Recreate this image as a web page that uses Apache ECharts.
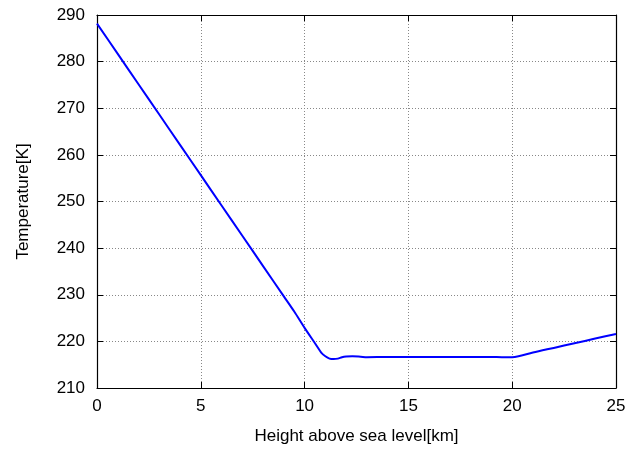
<!DOCTYPE html>
<html>
<head>
<meta charset="utf-8">
<script src="https://cdn.jsdelivr.net/npm/echarts@6/dist/echarts.min.js"></script>
<style>
  html, body { margin: 0; padding: 0; background: #fff; }
  #chart { width: 630px; height: 450px; }
</style>
</head>
<body>
<div id="chart"></div>
<script>
// Standard atmosphere temperature profile (height in km, temperature in K)
const heightKm = [0, 1, 2, 3, 4, 5, 6, 7, 8, 9, 9.5, 10, 10.5, 10.8, 11, 11.2, 11.4, 11.6, 11.8, 12, 12.3, 12.7, 13, 14, 15, 16, 17, 18, 19, 19.5, 20, 20.3, 21, 22, 23, 24, 25];
const temperatureK = [288.15, 281.65, 275.15, 268.65, 262.15, 255.65, 249.15, 242.65, 236.15, 229.65, 226.4, 222.9, 219.6, 217.6, 216.8, 216.3, 216.2, 216.3, 216.6, 216.75, 216.8, 216.7, 216.6, 216.65, 216.65, 216.65, 216.65, 216.65, 216.65, 216.6, 216.6, 216.8, 217.6, 218.6, 219.6, 220.6, 221.6];
const xTicks = [0, 5, 10, 15, 20, 25];
const yTicks = [210, 220, 230, 240, 250, 260, 270, 280, 290];

const FONT = 'Liberation Sans, Arial, sans-serif';
const gridLine = { show: true, lineStyle: { color: '#888', type: [1, 2], width: 1 } };
const frameLine = { show: true, onZero: false, lineStyle: { color: '#000', width: 1.2 } };
const innerTick = { show: true, inside: true, length: 6, lineStyle: { color: '#000', width: 1 } };

const chart = echarts.init(document.getElementById('chart'), null, { renderer: 'canvas' });
chart.setOption({
  animation: false,
  backgroundColor: '#fff',
  grid: { left: 97, right: 14, top: 15, bottom: 62 },
  xAxis: [
    {
      type: 'value', min: xTicks[0], max: xTicks[xTicks.length - 1], interval: 5,
      name: 'Height above sea level[km]', nameLocation: 'middle', nameGap: 40,
      nameTextStyle: { fontFamily: FONT, fontSize: 17, color: '#000' },
      axisLine: frameLine, axisTick: innerTick, splitLine: gridLine,
      axisLabel: { fontFamily: FONT, fontSize: 17, color: '#000', margin: 10 }
    },
    {
      type: 'value', position: 'top', min: xTicks[0], max: xTicks[xTicks.length - 1], interval: 5,
      axisLine: frameLine, axisTick: innerTick, splitLine: { show: false },
      axisLabel: { show: false }
    }
  ],
  yAxis: [
    {
      type: 'value', min: yTicks[0], max: yTicks[yTicks.length - 1], interval: 10,
      name: 'Temperature[K]', nameLocation: 'middle', nameGap: 65, nameRotate: 90,
      nameTextStyle: { fontFamily: FONT, fontSize: 17, color: '#000' },
      axisLine: frameLine, axisTick: innerTick, splitLine: gridLine,
      axisLabel: { fontFamily: FONT, fontSize: 17, color: '#000', margin: 12 }
    },
    {
      type: 'value', position: 'right', min: yTicks[0], max: yTicks[yTicks.length - 1], interval: 10,
      axisLine: frameLine, axisTick: innerTick, splitLine: { show: false },
      axisLabel: { show: false }
    }
  ],
  series: [{
    type: 'line',
    data: heightKm.map((h, i) => [h, temperatureK[i]]),
    showSymbol: false,
    smooth: 0.3,
    lineStyle: { color: '#0000ff', width: 2 },
    itemStyle: { color: '#0000ff' }
  }]
});
</script>
</body>
</html>
